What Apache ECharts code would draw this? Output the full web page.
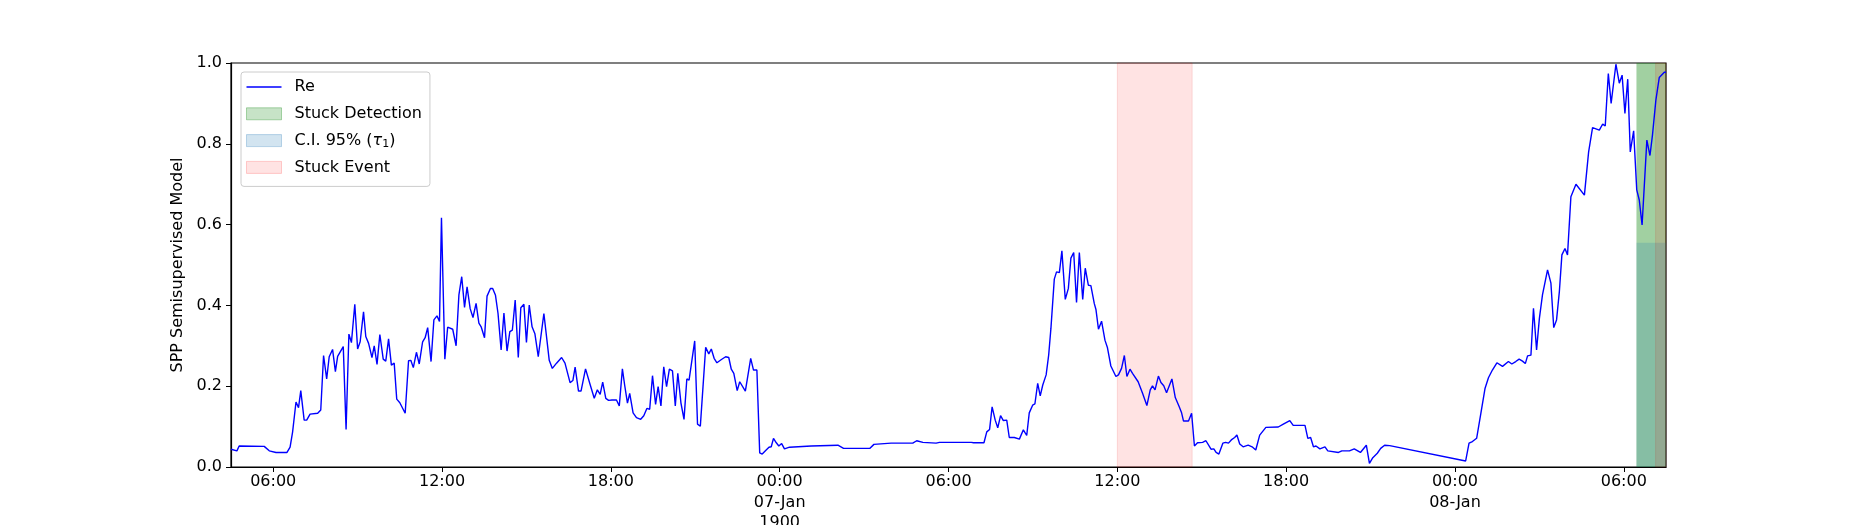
<!DOCTYPE html>
<html>
<head>
<meta charset="utf-8">
<script src="https://cdn.jsdelivr.net/npm/echarts@6/dist/echarts.min.js"></script>
<style>
html,body{margin:0;padding:0;background:#fff;}
#chart{width:1850px;height:525px;}
</style>
</head>
<body>
<div id="chart"></div>
<script>
// x values: hours since 06-Jan-1900 00:00
const times = [
4.50,4.71,4.79,5.68,5.86,6.10,6.49,6.60,6.69,6.81,6.90,6.98,7.10,7.19,7.31,7.58,7.69,7.79,7.90,7.99,
8.11,8.21,8.29,8.49,8.59,8.69,8.78,8.90,9.00,9.09,9.21,9.29,9.39,9.51,9.59,9.69,9.79,9.91,10.00,10.10,
10.20,10.30,10.39,10.50,10.69,10.81,10.89,10.98,11.09,11.19,11.31,11.40,11.49,11.61,11.71,11.82,11.91,11.98,12.10,12.20,
12.38,12.50,12.60,12.70,12.80,12.89,13.00,13.10,13.21,13.31,13.39,13.51,13.60,13.72,13.80,13.90,13.99,14.10,14.20,14.31,
14.41,14.50,14.60,14.71,14.80,14.91,15.00,15.10,15.20,15.30,15.42,15.62,15.81,15.92,16.07,16.25,16.37,16.55,16.65,16.73,
16.85,16.94,17.10,17.26,17.41,17.52,17.62,17.71,17.82,17.92,18.04,18.20,18.30,18.41,18.49,18.59,18.67,18.79,18.91,19.06,
19.17,19.28,19.38,19.48,19.59,19.68,19.78,19.88,19.98,20.08,20.19,20.29,20.38,20.49,20.60,20.70,20.78,20.98,21.08,21.18,
21.37,21.48,21.57,21.67,21.77,21.93,22.08,22.19,22.28,22.37,22.49,22.58,22.78,22.97,23.07,23.19,23.29,23.38,23.52,23.62,
23.70,23.78,23.88,23.97,24.07,24.17,24.35,25.12,26.07,26.27,27.20,27.35,27.96,28.73,28.87,29.09,29.56,29.68,
30.04,30.81,30.89,31.26,31.36,31.46,31.55,31.66,31.75,31.85,31.95,32.07,32.16,32.34,32.52,32.66,32.78,32.87,32.99,33.07,
33.17,33.26,33.35,33.47,33.56,33.64,33.76,33.84,33.94,34.03,34.15,34.26,34.35,34.45,34.55,34.65,34.77,34.86,34.97,35.06,
35.18,35.24,35.33,35.44,35.56,35.65,35.77,35.95,36.04,36.15,36.25,36.34,36.45,36.54,36.74,36.90,37.05,37.17,37.25,37.34,
37.46,37.55,37.65,37.75,37.94,38.06,38.20,38.28,38.35,38.53,38.64,38.74,38.85,39.03,39.15,39.33,39.43,39.51,39.61,39.75,
39.85,39.95,40.05,40.17,40.25,40.35,40.47,40.65,40.79,40.92,41.06,41.28,41.72,41.90,42.13,42.25,42.67,42.77,42.87,42.97,
43.06,43.20,43.38,43.48,43.86,43.98,44.25,44.42,44.64,44.85,44.96,45.08,45.24,45.36,45.50,45.68,48.38,48.50,48.62,48.77,
48.92,49.07,49.19,49.33,49.49,49.69,49.90,50.02,50.16,50.28,50.40,50.50,50.58,50.70,50.79,50.90,51.00,51.11,51.29,51.41,
51.51,51.61,51.71,51.80,51.91,52.00,52.12,52.30,52.60,52.75,52.89,53.13,53.25,53.34,53.45,53.55,53.72,53.84,53.94,54.04,
54.14,54.23,54.35,54.46,54.55,54.65,54.82,54.93,55.02,55.14,55.26,55.44,55.50
];
const reValues = [
.044,.040,.052,.051,.040,.036,.036,.049,.087,.161,.147,.189,.116,.116,.131,.133,.141,.276,.218,.273,
.291,.236,.274,.298,.093,.329,.308,.403,.292,.310,.384,.323,.306,.271,.300,.254,.328,.267,.262,.317,
.252,.257,.168,.159,.133,.263,.264,.246,.284,.255,.310,.320,.345,.261,.364,.374,.360,.617,.267,.346,
.341,.300,.426,.471,.395,.446,.392,.370,.405,.356,.347,.320,.423,.442,.442,.425,.380,.290,.381,.287,
.335,.339,.413,.271,.394,.403,.308,.401,.347,.330,.273,.380,.264,.244,.257,.271,.257,.209,.214,.247,
.188,.188,.243,.205,.170,.191,.180,.210,.170,.165,.166,.166,.151,.243,.203,.158,.182,.134,.122,.118,
.127,.145,.143,.226,.155,.199,.151,.248,.199,.242,.238,.151,.232,.159,.118,.218,.215,.312,.106,.101,
.296,.280,.292,.269,.258,.266,.273,.271,.242,.232,.189,.211,.188,.269,.240,.240,.035,.032,.042,.049,
.050,.071,.060,.052,.058,.045,.049,.052,.054,.046,.046,.056,.059,.059,.065,.061,.059,.061,
.061,.061,.060,.060,.087,.093,.149,.116,.097,.127,.115,.116,.073,.073,.069,.092,.078,.134,.153,.156,
.207,.176,.203,.228,.277,.343,.465,.483,.481,.535,.415,.442,.517,.531,.407,.531,.415,.492,.450,.449,
.405,.390,.341,.361,.314,.295,.250,.224,.228,.244,.276,.224,.242,.232,.211,.182,.152,.191,.201,.191,
.225,.209,.201,.184,.218,.172,.149,.135,.114,.114,.133,.052,.060,.061,.065,.044,.045,.036,.032,.059,
.061,.059,.067,.073,.079,.057,.050,.054,.050,.042,.079,.098,.099,.106,.115,.103,.103,.071,.073,.050,
.052,.045,.050,.040,.036,.040,.040,.045,.036,.054,.009,.023,.034,.046,.054,.053,.015,.059,.063,.071,
.133,.195,.221,.240,.258,.249,.261,.255,.261,.267,.262,.256,.275,.277,.393,.290,.368,.426,.488,.455,
.345,.364,.434,.525,.541,.525,.669,.700,.673,.780,.840,.834,.849,.844,.974,.900,.997,.950,.970,.875,
.960,.780,.832,.686,.661,.599,.809,.771,.822,.908,.964,.977,.977
];
// shaded spans [startHour, endHour] and CI box [startHour, endHour, yLow, yHigh]
const detectionSpans = [[54.45, 55.5]];
const ciSpans = [[54.45, 55.5, 0, 0.555]];
const stuckEventSpans = [[36.0, 38.66], [55.13, 55.5]];
// x tick positions and labels
const tickHours = [6, 12, 18, 24, 30, 36, 42, 48, 54];
const tickLabels = ["06:00","12:00","18:00","00:00\n07-Jan\n1900","06:00","12:00","18:00","00:00\n08-Jan","06:00"];
const xMin = 4.5, xMax = 55.5;

const FONT = 'DejaVu Sans';
const reData = times.map((t, i) => [t, reValues[i]]);
// thin horizontal line icon (zero-area triangles pin the 35x12 bounding box)
const lineIcon = 'path://M0,0 L35,0 L35,0 Z M0,5.3 L35,5.3 L35,6.7 L0,6.7 Z M0,12 L35,12 L35,12 Z';

const chart = echarts.init(document.getElementById('chart'), null, {renderer: 'canvas'});
chart.setOption({
  animation: false,
  backgroundColor: '#fff',
  grid: {left: 231, right: 184, top: 63, bottom: 58, containLabel: false, outerBoundsMode: 'none',
    show: true, borderColor: '#000', borderWidth: 1.2, backgroundColor: 'transparent'},
  legend: {
    orient: 'vertical', left: 241, top: 72,
    padding: [6, 8, 10, 5],
    itemGap: 8.8, itemWidth: 35, itemHeight: 12,
    backgroundColor: 'rgba(255,255,255,0.8)',
    borderColor: '#cccccc', borderWidth: 1, borderRadius: 3,
    textStyle: {fontFamily: FONT, fontSize: 16, color: '#000', padding: [0, 0, 0, 8], lineHeight: 18,
      rich: {t: {fontFamily: FONT, fontSize: 16, fontStyle: 'italic', color: '#000'},
             s: {fontFamily: FONT, fontSize: 11, color: '#000', padding: [7, 0, 0, 0]}}},
    formatter: function (name) {
      if (name === 'C.I. 95% (τ1)') return 'C.I. 95% ({t|τ}{s|1})';
      return name;
    },
    data: [
      {name: 'Re', icon: lineIcon, itemStyle: {color: '#0000ff', borderWidth: 0}},
      {name: 'Stuck Detection', icon: 'rect', itemStyle: {color: 'rgba(0,128,0,0.22)', borderColor: 'rgba(0,128,0,0.3)', borderWidth: 1}},
      {name: 'C.I. 95% (τ1)', icon: 'rect', itemStyle: {color: 'rgba(31,119,180,0.2)', borderColor: 'rgba(31,119,180,0.28)', borderWidth: 1}},
      {name: 'Stuck Event', icon: 'rect', itemStyle: {color: 'rgba(255,0,0,0.11)', borderColor: 'rgba(255,0,0,0.18)', borderWidth: 1}}
    ]
  },
  xAxis: {
    type: 'value', min: xMin, max: xMax,
    splitLine: {show: false},
    axisLine: {show: true, onZero: false, lineStyle: {color: '#000', width: 1.2}},
    axisTick: {show: true, length: 5, lineStyle: {color: '#000', width: 1}, customValues: tickHours},
    axisLabel: {
      customValues: tickHours,
      fontFamily: FONT, fontSize: 16, color: '#000', margin: 5, lineHeight: 20.5,
      formatter: function (v) {
        const i = tickHours.findIndex(h => Math.abs(h - v) < 1e-6);
        return i >= 0 ? tickLabels[i] : '';
      }
    }
  },
  yAxis: {
    type: 'value', min: 0, max: 1, interval: 0.2,
    name: 'SPP Semisupervised Model', nameLocation: 'middle', nameGap: 35,
    nameTextStyle: {fontFamily: FONT, fontSize: 16, color: '#000'},
    splitLine: {show: false},
    axisLine: {show: true, lineStyle: {color: '#000', width: 1.2}},
    axisTick: {show: true, length: 5, lineStyle: {color: '#000', width: 1}},
    axisLabel: {fontFamily: FONT, fontSize: 16, color: '#000', margin: 9,
      formatter: v => v.toFixed(1)}
  },
  series: [
    {
      name: 'Stuck Detection', type: 'line', data: [], z: 1, silent: true,
      itemStyle: {color: 'rgba(0,128,0,0.22)'},
      markArea: {silent: true, itemStyle: {color: 'rgba(0,128,0,0.37)'},
        data: detectionSpans.map(s => [{xAxis: s[0]}, {xAxis: s[1]}])}
    },
    {
      name: 'C.I. 95% (τ1)', type: 'line', data: [], z: 1, silent: true,
      itemStyle: {color: 'rgba(31,119,180,0.2)'},
      markArea: {silent: true, itemStyle: {color: 'rgba(31,119,180,0.2)'},
        data: ciSpans.map(s => [{xAxis: s[0], yAxis: s[2]}, {xAxis: s[1], yAxis: s[3]}])}
    },
    {
      name: 'Stuck Event', type: 'line', data: [], z: 1, silent: true,
      itemStyle: {color: 'rgba(255,0,0,0.11)'},
      markArea: {silent: true, itemStyle: {color: 'rgba(255,0,0,0.11)', borderColor: 'rgba(220,0,0,0.12)', borderWidth: 1},
        data: stuckEventSpans.map(s => [{xAxis: s[0]}, {xAxis: s[1]}])}
    },
    {
      name: 'Re', type: 'line', data: reData, z: 3,
      showSymbol: false, symbol: 'none',
      lineStyle: {color: '#0000ff', width: 1.4},
      itemStyle: {color: '#0000ff'}
    }
  ]
});
</script>
</body>
</html>
